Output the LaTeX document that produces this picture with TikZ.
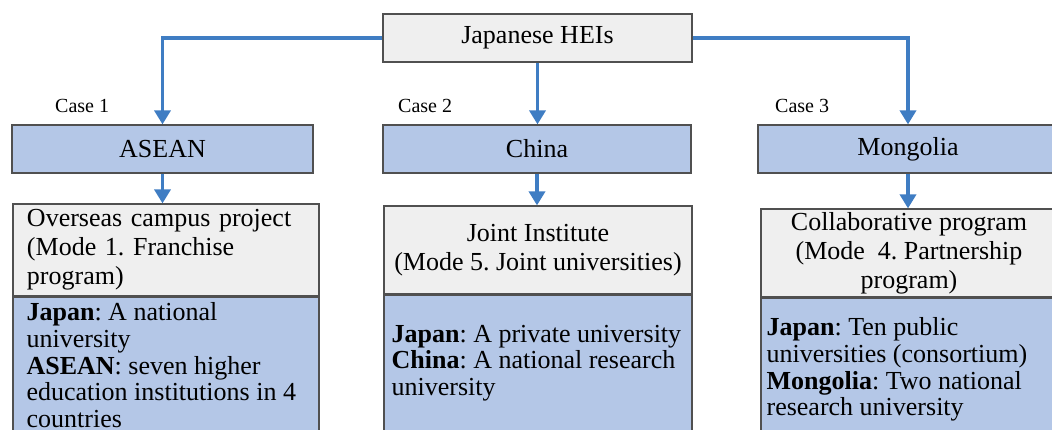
\documentclass[tikz,border=0pt]{standalone}
\usepackage{fontspec}
\setmainfont{Liberation Serif}
\usetikzlibrary{arrows.meta,positioning}
\definecolor{casefill}{HTML}{B4C7E7}
\definecolor{modefill}{HTML}{EFEFEF}
\definecolor{linkblue}{HTML}{3F7DC3}
\definecolor{edgegray}{HTML}{505050}
\frenchspacing

\begin{document}
\begin{tikzpicture}[x=1pt,y=-1pt,
  graybox/.style={draw=edgegray,line width=1.2pt,fill=modefill,inner sep=0pt,font=\fontsize{26}{29}\selectfont},
  bluebox/.style={draw=edgegray,line width=1.2pt,fill=casefill,inner sep=0pt,font=\fontsize{26}{29}\selectfont},
  bodytext/.style={inner sep=0pt,align=left,font=\fontsize{26}{26.7}\selectfont},
  casetag/.style={inner sep=0pt,font=\fontsize{20}{24}\selectfont},
  link/.style={linkblue,line width=3.5pt,-{Triangle[width=16pt,length=14pt]}}]
\clip (0,0) rectangle (1052,430);
\node[graybox,minimum width=309pt,minimum height=48pt] (jhei) at (537.5,38) {Japanese HEIs};
\node[bluebox,minimum width=301pt,minimum height=48pt] (asean) at (162.5,149) {ASEAN};
\node[bluebox,minimum width=308pt,minimum height=48pt] (china) at (537,149) {China};
\node[bluebox,minimum width=300pt,minimum height=48pt] (mongolia) at (908,149) {Mongolia};
\node[casetag,anchor=base west] (case1) at (55,113) {Case 1};
\node[casetag,anchor=base west] (case2) at (398,113) {Case 2};
\node[casetag,anchor=base west] (case3) at (775,113) {Case 3};
% modes
\node[graybox,minimum width=306pt,minimum height=92pt,text width=278pt,align=left] (aseanmode) at (166,250) {Overseas campus project\\(Mode 1. Franchise\\program)};
\node[graybox,minimum width=308pt,minimum height=88pt,align=center] (chinamode) at (538,250) {Joint Institute\\(Mode 5. Joint universities)};
\node[graybox,minimum width=296pt,minimum height=88pt,align=center] (mongoliamode) at (909,253) {Collaborative program\\(Mode\ \ 4. Partnership\\program)};
% partners
\node[bluebox,anchor=north,minimum width=306pt,minimum height=150pt] (aseanbody) at (aseanmode.south) {};
\node[bluebox,anchor=north,minimum width=308pt,minimum height=150pt] (chinabody) at (chinamode.south) {};
\node[bluebox,anchor=north,minimum width=296pt,minimum height=150pt] (mongoliabody) at (mongoliamode.south) {};
\node[bodytext,anchor=north west] (aseaninfo) at ([xshift=14pt,yshift=-6pt]aseanbody.north west) {\textbf{Japan}: A national\\university\\\textbf{ASEAN}: seven higher\\education institutions in 4\\countries};
\node[bodytext,anchor=north west] (chinainfo) at ([xshift=8pt,yshift=-30pt]chinabody.north west) {\textbf{Japan}: A private university\\\textbf{China}: A national research\\university};
\node[bodytext,anchor=north west] (mongoliainfo) at ([xshift=6pt,yshift=-20pt]mongoliabody.north west) {\textbf{Japan}: Ten public\\universities (consortium)\\\textbf{Mongolia}: Two national\\research university};
% links
\draw[link] (jhei.west) -| (asean.north);
\draw[link] (jhei.east) -| (mongolia.north);
\draw[link] (jhei.south) -- (jhei.south |- china.north);
\draw[link] (asean.south) -- (asean.south |- aseanmode.north);
\draw[link] (china.south) -- (china.south |- chinamode.north);
\draw[link] (mongolia.south) -- (mongolia.south |- mongoliamode.north);
\end{tikzpicture}
\end{document}
